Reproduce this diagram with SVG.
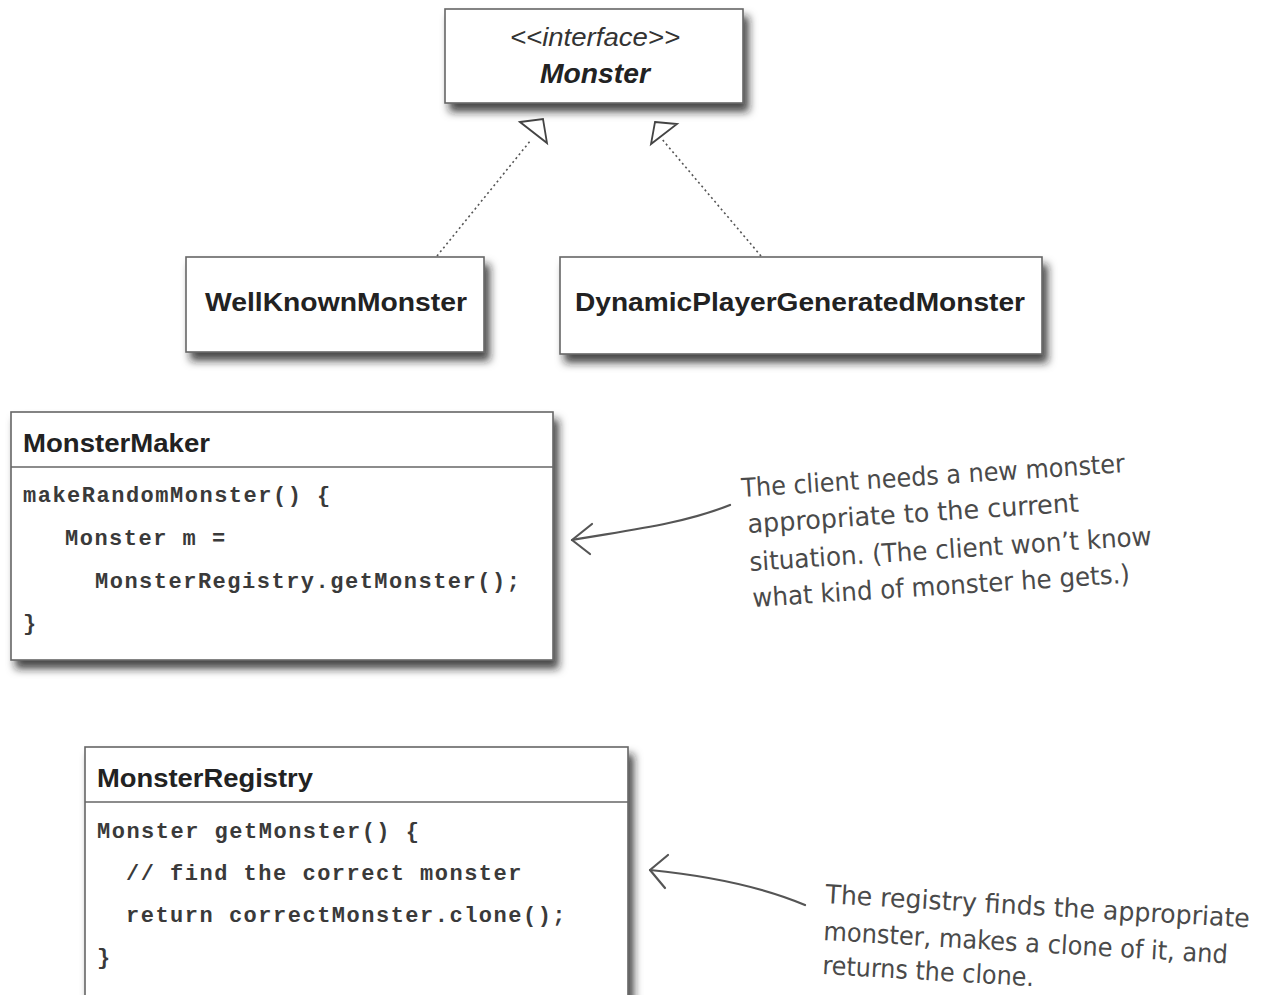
<svg xmlns="http://www.w3.org/2000/svg" width="1261" height="995" viewBox="0 0 1261 995">
<defs>
<filter id="sh" x="-10%" y="-10%" width="125%" height="135%">
<feDropShadow dx="5" dy="8" stdDeviation="4" flood-color="#1a1a1a" flood-opacity="0.8"/>
</filter>
</defs>
<style>
.box{fill:#fff;stroke:#666;stroke-width:1.6;filter:url(#sh)}
.div{stroke:#666;stroke-width:1.4}
.title{font-family:"Liberation Sans",Arial,sans-serif;font-weight:bold;font-size:26px;fill:#222}
.code{font-family:"Liberation Mono","Courier New",monospace;font-weight:bold;font-size:22px;letter-spacing:1.5px;fill:#3a3a3a}
.hand{font-family:"DejaVu Sans Condensed","Liberation Sans Narrow","Liberation Sans",sans-serif;font-size:26px;fill:#4a4a4a}
.dot{fill:none;stroke:#555;stroke-width:1.6;stroke-dasharray:2 3}
.tri{fill:#fff;stroke:#444;stroke-width:1.8;stroke-linejoin:miter}
.ann{fill:none;stroke:#555;stroke-width:2.2;stroke-linecap:round}
</style>
<rect width="1261" height="995" fill="#fff"/>

<g id="connectors">
<path class="dot" d="M437,256 L531,140"/>
<path class="dot" d="M761,256 L661,138"/>
<polygon class="tri" points="520,122 543,119 547,143"/>
<polygon class="tri" points="655,122 677,124 651,144"/>
<path class="ann" d="M730,505 C680,525 622,531 572,540"/>
<path class="ann" d="M572,540 L592,524 M572,540 L590,554"/>
<path class="ann" d="M805,905 C760,886 700,875 650,870"/>
<path class="ann" d="M650,870 L668,855 M650,870 L665,888"/>
</g>

<g id="monster">
<rect class="box" x="445" y="9" width="298" height="94"/>
<text x="595" y="46" text-anchor="middle" font-family="Liberation Sans, Arial, sans-serif" font-style="italic" font-size="26" fill="#333" textLength="170" lengthAdjust="spacingAndGlyphs">&lt;&lt;interface&gt;&gt;</text>
<text x="595" y="83" text-anchor="middle" font-family="Liberation Sans, Arial, sans-serif" font-style="italic" font-weight="bold" font-size="28" fill="#222" textLength="110" lengthAdjust="spacingAndGlyphs">Monster</text>
</g>

<g id="wellknown">
<rect class="box" x="186" y="257" width="298" height="95"/>
<text class="title" x="205" y="311" textLength="262" lengthAdjust="spacingAndGlyphs">WellKnownMonster</text>
</g>

<g id="dynamic">
<rect class="box" x="560" y="257" width="482" height="97"/>
<text class="title" x="575" y="311" textLength="450" lengthAdjust="spacingAndGlyphs">DynamicPlayerGeneratedMonster</text>
</g>

<g id="monstermaker">
<rect class="box" x="11" y="412" width="542" height="248"/>
<line class="div" x1="11" y1="467" x2="553" y2="467"/>
<text class="title" x="23" y="452" textLength="187" lengthAdjust="spacingAndGlyphs">MonsterMaker</text>
<text class="code" x="23" y="502">makeRandomMonster() {</text>
<text class="code" x="65" y="545">Monster m =</text>
<text class="code" x="95" y="588">MonsterRegistry.getMonster();</text>
<text class="code" x="23" y="630">}</text>
</g>

<g id="monsterregistry">
<rect class="box" x="85" y="747" width="543" height="260"/>
<line class="div" x1="85" y1="802" x2="628" y2="802"/>
<text class="title" x="97" y="787" textLength="216" lengthAdjust="spacingAndGlyphs">MonsterRegistry</text>
<text class="code" x="97" y="838">Monster getMonster() {</text>
<text class="code" x="126" y="880">// find the correct monster</text>
<text class="code" x="126" y="922">return correctMonster.clone();</text>
<text class="code" x="97" y="964">}</text>
</g>

<g id="note1">
<text class="hand" transform="translate(742,497) rotate(-3.7)" textLength="384" lengthAdjust="spacingAndGlyphs">The client needs a new monster</text>
<text class="hand" transform="translate(748,533) rotate(-3.7)" textLength="332" lengthAdjust="spacingAndGlyphs">appropriate to the current</text>
<text class="hand" transform="translate(750,571) rotate(-3.7)" textLength="403" lengthAdjust="spacingAndGlyphs">situation. (The client won’t know</text>
<text class="hand" transform="translate(753,607) rotate(-3.7)" textLength="378" lengthAdjust="spacingAndGlyphs">what kind of monster he gets.)</text>
</g>

<g id="note2">
<text class="hand" transform="translate(825,903) rotate(3.3)" textLength="425" lengthAdjust="spacingAndGlyphs">The registry finds the appropriate</text>
<text class="hand" transform="translate(823,940) rotate(3.3)" textLength="405" lengthAdjust="spacingAndGlyphs">monster, makes a clone of it, and</text>
<text class="hand" transform="translate(822,974) rotate(3.3)" textLength="212" lengthAdjust="spacingAndGlyphs">returns the clone.</text>
</g>
</svg>
